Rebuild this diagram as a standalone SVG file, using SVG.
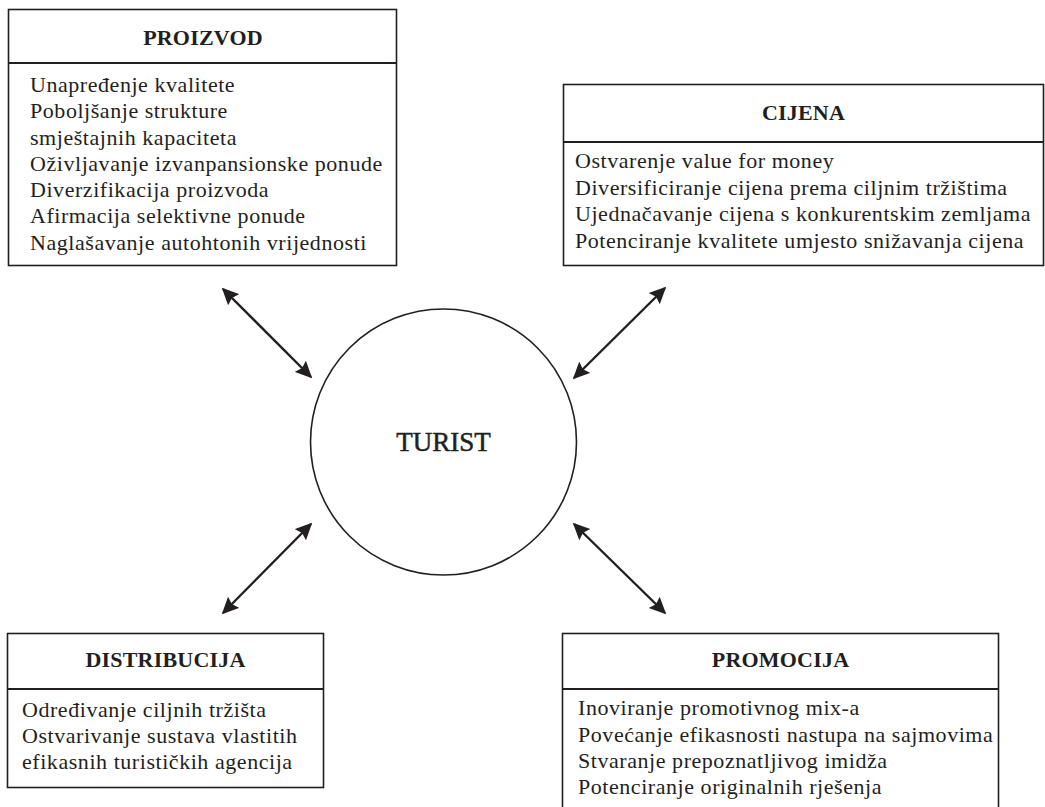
<svg xmlns="http://www.w3.org/2000/svg" width="1045" height="807" viewBox="0 0 1045 807">
<style>
.box{fill:#fff;stroke:#231f20;stroke-width:1.6}
.sep{stroke:#231f20;stroke-width:1.8}
.title{font-family:"Liberation Serif",serif;font-weight:bold;font-size:22px;fill:#231f20;text-anchor:middle;letter-spacing:0.2px}
.body{font-family:"Liberation Serif",serif;font-size:22px;fill:#231f20;letter-spacing:0.55px}
.center{font-family:"Liberation Serif",serif;font-size:27px;fill:#231f20;stroke:#231f20;stroke-width:0.5;text-anchor:middle}
.conn{stroke:#231f20;stroke-width:2.4;fill:none;marker-start:url(#ah);marker-end:url(#ah)}
</style>
<defs>
<marker id="ah" viewBox="0 0 10 10" refX="9" refY="5" markerWidth="7" markerHeight="7" markerUnits="strokeWidth" orient="auto-start-reverse">
<path d="M0,0.3 L10,5 L0,9.7 L1.5,5 Z" fill="#231f20"/>
</marker>
</defs>
<rect width="1045" height="807" fill="#fff"/>
<g id="connectors">
<line class="conn" x1="223" y1="289" x2="311" y2="377"/>
<line class="conn" x1="665" y1="288" x2="574" y2="378"/>
<line class="conn" x1="311" y1="524" x2="223" y2="613"/>
<line class="conn" x1="574" y1="524" x2="665" y2="613"/>
</g>
<g id="turist">
<circle cx="443.5" cy="442" r="133" fill="#fff" stroke="#231f20" stroke-width="1.6"/>
<text class="center" x="443.5" y="451">TURIST</text>
</g>
<g id="proizvod">
<rect class="box" x="8.5" y="9.5" width="388" height="256"/>
<line class="sep" x1="8.5" y1="63" x2="396.5" y2="63"/>
<text class="title" x="203" y="45">PROIZVOD</text>
<text class="body" x="30" y="92">Unapređenje kvalitete</text>
<text class="body" x="30" y="118">Poboljšanje strukture</text>
<text class="body" x="30" y="144.5">smještajnih kapaciteta</text>
<text class="body" x="30" y="171">Oživljavanje izvanpansionske ponude</text>
<text class="body" x="30" y="197">Diverzifikacija proizvoda</text>
<text class="body" x="30" y="223">Afirmacija selektivne ponude</text>
<text class="body" x="30" y="249.5">Naglašavanje autohtonih vrijednosti</text>
</g>
<g id="cijena">
<rect class="box" x="563.5" y="84.5" width="480" height="181"/>
<line class="sep" x1="563.5" y1="142" x2="1043.5" y2="142"/>
<text class="title" x="803.5" y="120">CIJENA</text>
<text class="body" x="575" y="168">Ostvarenje value for money</text>
<text class="body" x="575" y="194.5">Diversificiranje cijena prema ciljnim tržištima</text>
<text class="body" x="575" y="221">Ujednačavanje cijena s konkurentskim zemljama</text>
<text class="body" x="575" y="248">Potenciranje kvalitete umjesto snižavanja cijena</text>
</g>
<g id="distribucija">
<rect class="box" x="7.5" y="633.5" width="316" height="154"/>
<line class="sep" x1="7.5" y1="689" x2="323.5" y2="689"/>
<text class="title" x="165.5" y="667">DISTRIBUCIJA</text>
<text class="body" x="22" y="717">Određivanje ciljnih tržišta</text>
<text class="body" x="22" y="743">Ostvarivanje sustava vlastitih</text>
<text class="body" x="22" y="769">efikasnih turističkih agencija</text>
</g>
<g id="promocija">
<rect class="box" x="562.5" y="633.5" width="436" height="200"/>
<line class="sep" x1="562.5" y1="689" x2="998.5" y2="689"/>
<text class="title" x="780.5" y="667">PROMOCIJA</text>
<text class="body" x="578" y="715">Inoviranje promotivnog mix-a</text>
<text class="body" x="578" y="742">Povećanje efikasnosti nastupa na sajmovima</text>
<text class="body" x="578" y="768">Stvaranje prepoznatljivog imidža</text>
<text class="body" x="578" y="794">Potenciranje originalnih rješenja</text>
</g>
</svg>
